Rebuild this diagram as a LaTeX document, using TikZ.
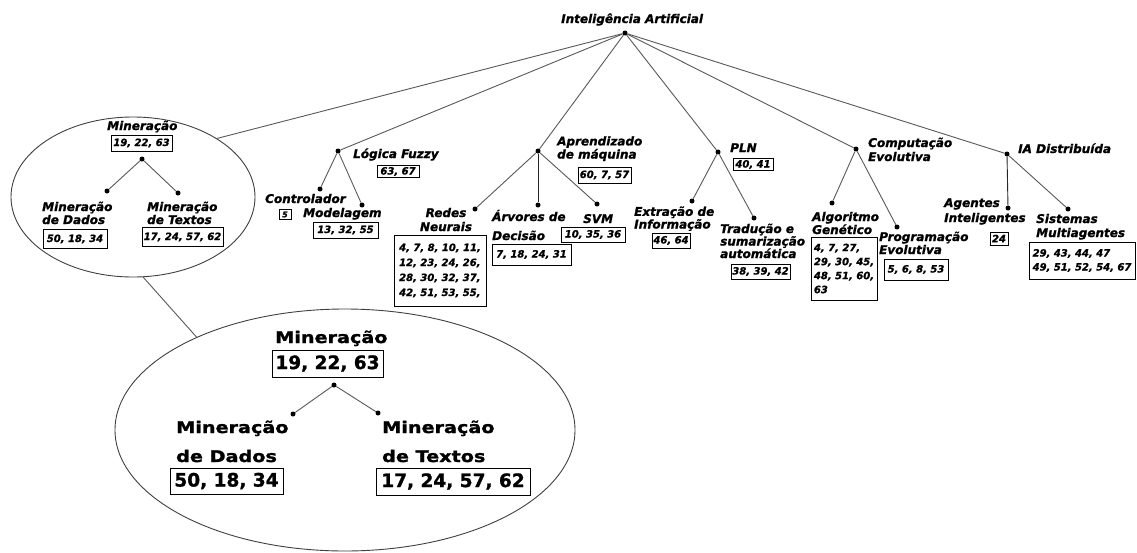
\documentclass[tikz,border=0pt]{standalone}
\usepackage{fontspec}
\usetikzlibrary{shapes.geometric}
\newfontfamily\djvfont{DejaVu Sans}[BoldItalicFeatures={FakeBold=1.2},BoldFeatures={FakeBold=1.2}]
\newfontfamily\djvwide{DejaVu Sans}[FakeStretch=1.2,BoldFeatures={FakeBold=1.5}]
\newcommand\lab[1]{\djvfont\bfseries\itshape\fontsize{12}{#1}\selectfont}
\newcommand\numf[1]{\djvfont\bfseries\itshape\fontsize{10}{#1}\selectfont}
\newcommand\biglab{\djvwide\bfseries\fontsize{16}{29}\selectfont}
\newcommand\bignum{\djvfont\bfseries\fontsize{18.5}{22}\selectfont}
\tikzset{
  lbl/.style={font=\lab{13}, anchor=base west, inner sep=0pt, align=left},
  num/.style={draw=black, line width=0.8pt, font=\numf{14}, inner sep=0pt, align=left},
  blbl/.style={font=\biglab, anchor=base west, inner sep=0pt, align=left},
  bnum/.style={draw=black, line width=1pt, font=\bignum, inner sep=0pt},
  dot/.style={circle, fill=black, inner sep=0pt, minimum size=5pt},
  edge/.style={draw=black!65, line width=0.9pt},
  bubble/.style={ellipse, draw=black!75, line width=0.9pt, inner sep=0pt, outer sep=0pt},
}
\begin{document}
\begin{tikzpicture}[x=1pt,y=-1pt]
\useasboundingbox[fill=white] (0,0) rectangle (1137,552);

% root
\node[dot] (root) at (625,33) {};
\node[lbl] (rootl) at (561,23) {Inteligência Artificial};

% first-level dots
\node[dot] (fz) at (338,151) {};
\node[dot] (ml) at (538,151) {};
\node[dot] (pln) at (718,152) {};
\node[dot] (ce) at (856,149) {};
\node[dot] (iad) at (1007,154) {};

% ellipses
\node[bubble, minimum width=244pt, minimum height=160pt] (ellA) at (133,197) {};
\node[bubble, minimum width=460pt, minimum height=242pt] (ellB) at (345,430) {};

\draw[edge] (root) -- (ellA.35);
\draw[edge] (root) -- (fz);
\draw[edge] (root) -- (ml);
\draw[edge] (root) -- (pln);
\draw[edge] (root) -- (ce);
\draw[edge] (root) -- (iad);
\draw[edge] (ellA.-83) -- (ellB.148);

% ---- small Mineracao ellipse
\node[lbl] (mA) at (107,130) {Mineração};
\node[num, minimum width=61pt, minimum height=16pt] (mAn) at (141.5,143) {19, 22, 63};
\node[dot] (mAd) at (142,159) {};
\node[dot] (mAl) at (107,191) {};
\node[dot] (mAr) at (178,193) {};
\draw[edge] (mAd) -- (mAl);
\draw[edge] (mAd) -- (mAr);
\node[lbl] (mAdl) at (42,224) {Mineração\\de Dados};
\node[num, minimum width=64pt, minimum height=19pt] (mAdn) at (75,239) {50, 18, 34};
\node[lbl] (mAtl) at (147,224) {Mineração\\de Textos};
\node[num, minimum width=81pt, minimum height=19pt] (mAtn) at (182.5,237) {17, 24, 57, 62};

% ---- big Mineracao ellipse
\node[blbl] (mB) at (275,343) {Mineração};
\node[bnum, minimum width=111pt, minimum height=27pt] (mBn) at (327.5,363.5) {19, 22, 63};
\node[dot] (mBd) at (334,385) {};
\node[dot] (mBl) at (293,414) {};
\node[dot] (mBr) at (378,413) {};
\draw[edge] (mBd) -- (mBl);
\draw[edge] (mBd) -- (mBr);
\node[blbl] (mBdl) at (176,462) {Mineração\\de Dados};
\node[bnum, minimum width=113pt, minimum height=26pt] (mBdn) at (226.5,481) {50, 18, 34};
\node[blbl] (mBtl) at (382,462) {Mineração\\de Textos};
\node[bnum, minimum width=154pt, minimum height=27pt] (mBtn) at (453,481.5) {17, 24, 57, 62};

% ---- Logica Fuzzy
\node[lbl] (fzl) at (353,158) {Lógica Fuzzy};
\node[num, minimum width=42pt, minimum height=12pt] (fzn) at (398,171.5) {63, 67};
\node[dot] (ctd) at (320,189) {};
\node[dot] (mdd) at (362,205) {};
\draw[edge] (fz) -- (ctd);
\draw[edge] (fz) -- (mdd);
\node[lbl] (ctl) at (265,203) {Controlador};
\node[num, minimum width=12pt, minimum height=10pt, font=\numf{10}\fontsize{8}{9}\selectfont] (ctn) at (285,214.5) {5};
\node[lbl] (mdl) at (303,217) {Modelagem};
\node[num, minimum width=65pt, minimum height=16pt] (mdn) at (345.5,230) {13, 32, 55};

% ---- Aprendizado de maquina
\node[lbl, font=\lab{11.5}] (mll) at (557,158.5) {Aprendizado\\de máquina};
\node[num, minimum width=53pt, minimum height=16pt] (mln) at (604.5,175) {60, 7, 57};
\node[dot] (rnd) at (475,209) {};
\node[dot] (add) at (538,205) {};
\node[dot] (svd) at (597,204) {};
\draw[edge] (ml) -- (rnd);
\draw[edge, draw=black!85] (ml) -- (add);
\draw[edge] (ml) -- (svd);
\node[lbl, align=center, anchor=base, font=\lab{14}] (rnl) at (446,231) {Redes\\Neurais};
\node[num, minimum width=92pt, minimum height=71pt, font=\numf{15}] (rnn) at (440,270.5) {4, 7, 8, 10, 11,\\12, 23, 24, 26,\\28, 30, 32, 37,\\42, 51, 53, 55,};
\node[lbl, font=\lab{19}] (adl) at (492,240) {Árvores de\\Decisão};
\node[num, minimum width=79pt, minimum height=21pt] (adn) at (531.5,254.5) {7, 18, 24, 31};
\node[lbl] (svl) at (583,223) {SVM};
\node[num, minimum width=64pt, minimum height=15pt] (svn) at (593,234.5) {10, 35, 36};

% ---- PLN
\node[lbl] (plnl) at (730,152) {PLN};
\node[num, minimum width=40pt, minimum height=12pt] (plnn) at (753,164.5) {40, 41};
\node[dot] (eid) at (692,201) {};
\node[dot] (tsd) at (754,218) {};
\draw[edge] (pln) -- (eid);
\draw[edge] (pln) -- (tsd);
\node[lbl, font=\lab{11.5}] (eil) at (634,228.5) {Extração de\\Informação};
\node[num, minimum width=38pt, minimum height=15pt] (ein) at (671,240.5) {46, 64};
\node[lbl, font=\lab{12.5}] (tsl) at (720,258) {Tradução e\\sumarização\\automática};
\node[num, minimum width=59pt, minimum height=15pt] (tsn) at (760.5,271.5) {38, 39, 42};

% ---- Computacao Evolutiva
\node[lbl, font=\lab{14}] (cel) at (868,161) {Computação\\Evolutiva};
\node[dot] (agd) at (832,203) {};
\node[dot] (ped) at (897,227) {};
\draw[edge] (ce) -- (agd);
\draw[edge] (ce) -- (ped);
\node[lbl] (agl) at (812,234) {Algoritmo\\Genético};
\node[num, minimum width=66pt, minimum height=63pt, font=\numf{14}] (agn) at (844,268.5) {4, 7, 27,\\29, 30, 45,\\48, 51, 60,\\63};
\node[lbl] (pel) at (879,254) {Programação\\Evolutiva};
\node[num, minimum width=64pt, minimum height=21pt] (pen) at (916,269.5) {5, 6, 8, 53};

% ---- IA Distribuida
\node[lbl] (iadl) at (1018,153) {IA Distribuída};
\node[dot] (aid) at (1008,208) {};
\node[dot] (smd) at (1068,209) {};
\draw[edge, draw=black!85] (iad) -- (aid);
\draw[edge] (iad) -- (smd);
\node[lbl, font=\lab{15}] (ail) at (944,222) {Agentes\\Inteligentes};
\node[num, minimum width=18pt, minimum height=13pt] (ain) at (999,238.5) {24};
\node[lbl, font=\lab{14}] (sml) at (1036,237) {Sistemas\\Multiagentes};
\node[num, minimum width=106pt, minimum height=37pt, font=\numf{14}] (smn) at (1082,260.5) {29, 43, 44, 47\\49, 51, 52, 54, 67};
\end{tikzpicture}
\end{document}
